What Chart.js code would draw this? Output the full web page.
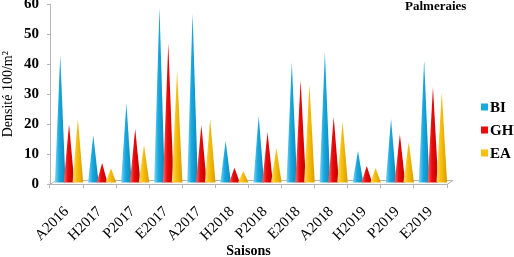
<!DOCTYPE html>
<html>
<head>
<meta charset="utf-8">
<script src="https://cdn.jsdelivr.net/npm/chart.js@4"></script>
<style>
  html, body { margin: 0; padding: 0; background: #fff; }
  #wrap { width: 514px; height: 257px; }
</style>
</head>
<body>
<div id="wrap"><canvas id="myChart"></canvas></div>
<script>
const saisons = ['A2016', 'H2017', 'P2017', 'E2017', 'A2017', 'H2018', 'P2018', 'E2018', 'A2018', 'H2019', 'P2019', 'E2019'];
const biValues = [43, 16.3, 27, 59, 57, 14.4, 22.7, 40.6, 44, 11, 21.7, 41.3];
const ghValues = [20, 7, 18.5, 47, 19.7, 5.4, 17.3, 34.7, 22.4, 6, 16.6, 32.4];
const eaValues = [21.7, 5.3, 13, 37.7, 21.7, 4.3, 12, 33.3, 20.7, 5.3, 14, 30.7];
const yTicks = [0, 10, 20, 30, 40, 50, 60];

const serif = "'Liberation Serif', 'Times New Roman', serif";
const coneColors = ['#17a9e1', '#ee0a0a', '#f9c00b'];
const coneLight = ['#7fd3f3', '#ff6a6a', '#ffe07a'];
const coneDark = ['#0f86b6', '#b80000', '#d99c00'];

// cones + floor + legend + title
const extras = {
    id: 'extras',
    beforeDatasetsDraw(chart) {
        const c = chart.ctx;
        const a = chart.chartArea;
        const y0 = chart.scales.y.getPixelForValue(0);
        c.save();
        c.strokeStyle = '#b4b4b4';
        c.lineWidth = 1;
        c.beginPath();
        c.moveTo(a.left, y0 + 0.5);
        c.lineTo(a.left + 6, y0 - 3.5);
        c.lineTo(a.right + 6, y0 - 3.5);
        c.lineTo(a.right, y0 + 0.5);
        c.stroke();
        c.restore();
    },
    afterDatasetsDraw(chart) {
        const c = chart.ctx;
        chart.data.datasets.forEach((ds, i) => {
            const meta = chart.getDatasetMeta(i);
            meta.data.forEach(bar => {
                const w = bar.width * 1.2;
                const cx = bar.x + 2.5;
                const base = bar.base - 1;
                const g = c.createLinearGradient(cx - w / 2, 0, cx + w / 2, 0);
                g.addColorStop(0, coneLight[i]);
                g.addColorStop(0.4, coneColors[i]);
                g.addColorStop(1, coneDark[i]);
                c.save();
                c.fillStyle = g;
                c.beginPath();
                c.moveTo(cx - w / 2, base);
                c.lineTo(cx, bar.y);
                c.lineTo(cx + w / 2, base);
                c.closePath();
                c.fill();
                c.restore();
            });
        });
    },
    afterDraw(chart) {
        const c = chart.ctx;
        c.save();
        c.fillStyle = '#000';
        c.font = 'bold 13px ' + serif;
        c.textBaseline = 'middle';
        c.fillText('Palmeraies', 405, 7);
        c.font = 'bold 15px ' + serif;
        chart.data.datasets.forEach((ds, i) => {
            const y = 107 + i * 23;
            c.fillStyle = coneColors[i];
            c.fillRect(481, y - 3.5, 7, 7);
            c.fillStyle = '#000';
            c.fillText(ds.label, 490, y + 1);
        });
        c.restore();
    }
};

new Chart(document.getElementById('myChart'), {
    type: 'bar',
    data: {
        labels: saisons,
        datasets: [
            { label: 'BI', data: biValues, backgroundColor: 'transparent' },
            { label: 'GH', data: ghValues, backgroundColor: 'transparent' },
            { label: 'EA', data: eaValues, backgroundColor: 'transparent' }
        ]
    },
    options: {
        responsive: true,
        maintainAspectRatio: false,
        animation: false,
        layout: { padding: { left: 0, right: 67, top: 0, bottom: 0 } },
        datasets: { bar: { barPercentage: 1.0, categoryPercentage: 0.8 } },
        plugins: {
            legend: { display: false },
            tooltip: { enabled: false }
        },
        scales: {
            x: {
                afterFit(scale) { scale.height = 73; },
                grid: { drawOnChartArea: false, color: '#b4b4b4', tickLength: 4, offset: true },
                border: { color: '#b4b4b4' },
                ticks: {
                    color: '#000',
                    font: { family: serif, size: 15 },
                    maxRotation: 45,
                    minRotation: 45,
                    padding: 15
                },
                title: {
                    display: true,
                    text: 'Saisons',
                    color: '#000',
                    font: { family: serif, size: 14, weight: 'bold' },
                    padding: { top: 0, bottom: -2.5 }
                }
            },
            y: {
                min: 0,
                max: 60,
                afterBuildTicks(scale) {
                    scale.ticks = yTicks.map(v => ({ value: v }));
                },
                afterFit(scale) {
                    scale.width = 50;
                    scale.paddingTop = 4.5;
                    scale.paddingBottom = 0;
                },
                grid: { drawOnChartArea: false, drawTicks: true, tickLength: 3, color: '#b4b4b4' },
                border: { color: '#b4b4b4' },
                ticks: {
                    color: '#000',
                    font: { family: serif, size: 15, weight: 'bold' },
                    padding: 8
                },
                title: {
                    display: true,
                    text: 'Densité 100/m²',
                    color: '#000',
                    font: { family: serif, size: 14 },
                    padding: { top: 0, bottom: 0 }
                }
            }
        }
    },
    plugins: [extras]
});
</script>
</body>
</html>
